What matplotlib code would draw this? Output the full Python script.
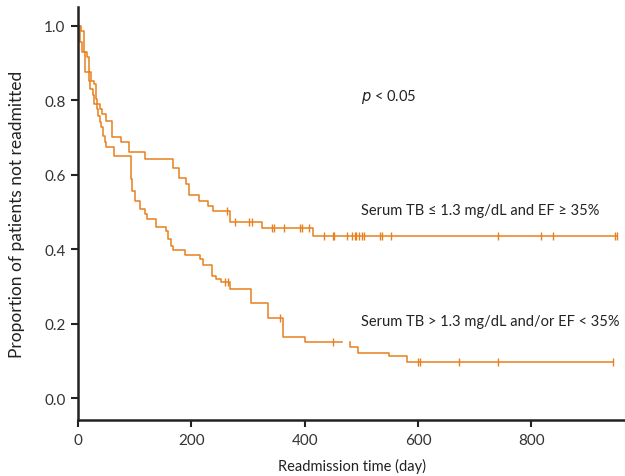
import matplotlib
matplotlib.use("Agg")
import matplotlib.pyplot as plt
import numpy as np

# Group A: Serum TB <= 1.3 mg/dL and EF >= 35%
event_days_a = [6, 10, 16, 20, 23, 28, 31, 33, 38, 42, 50, 60, 76, 90, 118, 167, 178,
                191, 195, 213, 229, 238, 268, 325, 414]
surv_a = [0.985, 0.929, 0.915, 0.875, 0.852, 0.843, 0.803, 0.790, 0.776, 0.763, 0.743,
          0.701, 0.687, 0.660, 0.643, 0.617, 0.590, 0.575, 0.546, 0.530, 0.517, 0.502,
          0.474, 0.457, 0.435]
censor_days_a = [262, 277, 301, 307, 343, 346, 363, 392, 396, 408, 434, 449, 452, 474,
                 484, 488, 491, 495, 501, 505, 532, 537, 553, 741, 816, 838, 947, 951]

# Group B: Serum TB > 1.3 mg/dL and/or EF < 35%
event_days_b = [4, 7, 13, 19, 22, 27, 29, 33, 35, 38, 40, 44, 47, 50, 63, 93, 95, 100,
                109, 118, 121, 138, 156, 159, 164, 168, 188, 215, 221, 237, 244, 253, 268,
                305, 335, 362, 400, 479, 494, 548, 580]
surv_b = [0.956, 0.929, 0.875, 0.852, 0.830, 0.815, 0.790, 0.776, 0.758, 0.741, 0.727,
          0.705, 0.687, 0.674, 0.651, 0.588, 0.557, 0.530, 0.508, 0.494, 0.481, 0.459,
          0.450, 0.427, 0.409, 0.398, 0.384, 0.373, 0.357, 0.329, 0.320, 0.311, 0.293,
          0.257, 0.2145, 0.1635, 0.152, 0.138, 0.123, 0.114, 0.098]
censor_days_b = [260, 264, 357, 450, 600, 604, 673, 741, 944]
gap_b = (466, 479)  # the drawn curve has a short break here

label_a = "Serum TB \u2264 1.3 mg/dL and EF \u2265 35%"
label_b = "Serum TB > 1.3 mg/dL and/or EF < 35%"

color = "#E8801E"
plt.rcParams["font.family"] = ["Lato", "DejaVu Sans"]


def step_path(days, surv, end):
    x = [0.0]
    y = [1.0]
    for d, s in zip(days, surv):
        x += [d, d]
        y += [y[-1], s]
    x.append(end)
    y.append(y[-1])
    return np.array(x, float), np.array(y, float)


def surv_at(days, surv, t):
    val = 1.0
    for d, s in zip(days, surv):
        if d <= t:
            val = s
    return val


fig = plt.figure(figsize=(6.25, 4.77), dpi=100)
ax = fig.add_axes([0.1248, 0.1174, 0.8752, 0.866])

# group A
xa, ya = step_path(event_days_a, surv_a, max(censor_days_a))
ax.plot(xa, ya, color=color, lw=1.1)
ax.plot(censor_days_a, [surv_at(event_days_a, surv_a, t) for t in censor_days_a],
        ls="none", marker="|", ms=6, mew=1.0, color=color)

# group B, split at the gap
xb, yb = step_path(event_days_b, surv_b, max(censor_days_b))
left = xb <= gap_b[0]
xl = np.append(xb[left], gap_b[0])
yl = np.append(yb[left], yb[left][-1])
ax.plot(xl, yl, color=color, lw=1.1)
right = xb >= gap_b[1]
ax.plot(xb[right], yb[right], color=color, lw=1.1)
ax.plot(censor_days_b, [surv_at(event_days_b, surv_b, t) for t in censor_days_b],
        ls="none", marker="|", ms=6, mew=1.0, color=color)

ax.text(500, 0.81, "$\\it{p}$ < 0.05", fontsize=10.5, color="#222222", va="center")
ax.text(500, 0.505, label_a, fontsize=10.5, color="#222222", va="center")
ax.text(500, 0.207, label_b, fontsize=10.5, color="#222222", va="center")

ax.set_xlim(0, 965)
ax.set_ylim(-0.058, 1.05)
ax.set_xticks([0, 200, 400, 600, 800])
ax.set_yticks([0.0, 0.2, 0.4, 0.6, 0.8, 1.0])
ax.set_yticklabels(["0.0", "0.2", "0.4", "0.6", "0.8", "1.0"])

for side in ["top", "right"]:
    ax.spines[side].set_visible(False)
for side in ["left", "bottom"]:
    ax.spines[side].set_linewidth(1.8)
    ax.spines[side].set_color("#222222")
ax.tick_params(axis="both", length=5, width=1.5, color="#222222",
               labelsize=11, labelcolor="#333333", pad=4)

ax.set_xlabel("Readmission time (day)", fontsize=10.5, color="#222222")
ax.set_ylabel("Proportion of patients not readmitted", fontsize=12.5, color="#222222")
ax.xaxis.set_label_coords(0.5, -0.092)
ax.yaxis.set_label_coords(-0.097, 0.5)

fig.savefig("out.png", dpi=100)
